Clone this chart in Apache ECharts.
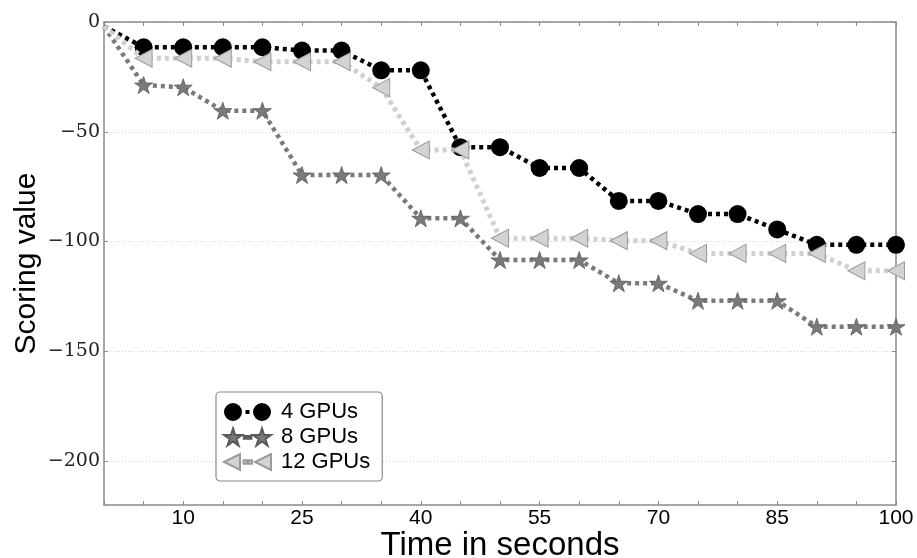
<!DOCTYPE html>
<html>
<head>
<meta charset="utf-8">
<script src="https://cdn.jsdelivr.net/npm/echarts@6/dist/echarts.min.js"></script>
<style>html,body{margin:0;padding:0;background:#fff}#c{width:917px;height:558px}</style>
</head>
<body>
<div id="c"></div>
<script>
// ---- data ----
const times = [0,5,10,15,20,25,30,35,40,45,50,55,60,65,70,75,80,85,90,95,100];
const gpu4  = [-2,-11.5,-11.5,-11.5,-11.5,-13,-13,-22,-22,-57,-57,-66.5,-66.5,-81.5,-81.5,-87.5,-87.5,-94.5,-101.5,-101.5,-101.5];
const gpu8  = [-2,-28.7,-29.7,-40.4,-40.4,-69.7,-69.7,-69.7,-89.4,-89.4,-108.4,-108.4,-108.4,-119,-119,-127,-127,-127,-138.8,-138.8,-138.8];
const gpu12 = [-2,-16.5,-16.5,-16.5,-18.1,-18.1,-18.1,-29.9,-58.3,-58.3,-98.5,-98.5,-98.5,-99.6,-99.6,-105.4,-105.4,-105.4,-105.4,-113.3,-113.3];
const seriesNames = ['4 GPUs','8 GPUs','12 GPUs'];
const xTickValues = [0,5,10,15,20,25,30,35,40,45,50,55,60,65,70,75,80,85,90,95,100];
const xLabelValues = [10,25,40,55,70,85,100];
const yTickValues = [0,-50,-100,-150,-200];

// ---- styles ----
const starPath = 'path://M50 0 L61.17 34.63 L97.55 34.55 L68.07 55.87 L79.39 90.45 L50 69 L20.61 90.45 L31.93 55.87 L2.45 34.55 L38.83 34.63 Z';
const leftTriPath = 'path://M0 50 L100 0 L100 100 Z';
const legendCircle = 'path://M0 9 A9 9 0 1 0 18 9 A9 9 0 1 0 0 9 Z M29 9 A9 9 0 1 0 47 9 A9 9 0 1 0 29 9 Z M21.5 7 L25.5 7 L25.5 11 L21.5 11 Z';
const legendStar = 'path://M9.03 0.4 L11.16 6.98 L18.07 6.96 L12.47 11.02 L14.62 17.59 L9.03 13.51 L3.45 17.59 L5.6 11.02 L0 6.96 L6.91 6.98 Z ' +
  'M37.93 0.4 L40.06 6.98 L46.97 6.96 L41.37 11.02 L43.52 17.59 L37.93 13.51 L32.35 17.59 L34.5 11.02 L28.9 6.96 L35.81 6.98 Z ' +
  'M19.8 8 L22.6 8 L22.6 10.8 L19.8 10.8 Z M24.6 8 L27.4 8 L27.4 10.8 L24.6 10.8 Z';
const legendTri = 'path://M0 9 L16 1 L16 17 Z M31 9 L47 1 L47 17 Z M19.5 7.2 L23 7.2 L23 10.8 L19.5 10.8 Z M24.5 7.2 L28 7.2 L28 10.8 L24.5 10.8 Z';

function pairs(vals){
  return times.map((t,i)=> i===0 ? {value:[t,vals[i]], symbol:'none'} : [t,vals[i]]);
}
const axisColor = '#8a8a8a';
const minus = v => String(v).replace('-', '\u2212');

const chart = echarts.init(document.getElementById('c'), null, {renderer:'canvas'});
chart.setOption({
  animation:false,
  backgroundColor:'#fff',
  grid:{left:104, right:21, top:22, bottom:53, containLabel:false, outerBoundsMode:'none'},
  legend:{
    orient:'vertical', left:216, top:392,
    padding:[9,12,8,7], itemGap:3, itemWidth:47, itemHeight:18,
    borderColor:'#8a8a8a', borderWidth:1.2, borderRadius:4, backgroundColor:'#fff',
    textStyle:{fontFamily:'Liberation Sans', fontSize:22, color:'#000', padding:[0,0,0,5]},
    data:[{name:seriesNames[0], icon:legendCircle},{name:seriesNames[1], icon:legendStar},{name:seriesNames[2], icon:legendTri}]
  },
  xAxis:[{
    type:'value', min:0, max:100, position:'bottom',
    name:'Time in seconds', nameLocation:'middle', nameGap:24, nameMoveOverlap:false,
    nameTextStyle:{fontFamily:'Liberation Sans', fontSize:33, color:'#000'},
    axisLine:{show:true, onZero:false, lineStyle:{color:axisColor, width:1.5}},
    axisTick:{show:true, inside:true, length:4, customValues:xTickValues, lineStyle:{color:axisColor}},
    axisLabel:{customValues:xLabelValues, margin:3, fontFamily:'Liberation Sans', fontSize:21, color:'#000'},
    splitLine:{show:false}
  },{
    type:'value', min:0, max:100, position:'top',
    axisLine:{show:true, onZero:false, lineStyle:{color:axisColor, width:1.5}},
    axisTick:{show:true, inside:true, length:4, customValues:xTickValues, lineStyle:{color:axisColor}},
    axisLabel:{show:false}, splitLine:{show:false}
  }],
  yAxis:[{
    type:'value', min:-220, max:0, position:'left',
    name:'Scoring value', nameLocation:'middle', nameGap:62, nameRotate:90, nameMoveOverlap:false,
    nameTextStyle:{fontFamily:'Liberation Sans', fontSize:30, color:'#000'},
    axisLine:{show:true, onZero:false, lineStyle:{color:axisColor, width:1.5}},
    axisTick:{show:true, inside:true, length:4, customValues:yTickValues, lineStyle:{color:axisColor}},
    axisLabel:{customValues:yTickValues, margin:4, fontFamily:'DejaVu Serif', fontSize:19, color:'#222', formatter:minus},
    splitLine:{show:true, lineStyle:{color:'#c8c8c8', width:0.8, type:[1,2]}}
  },{
    type:'value', min:-220, max:0, position:'right',
    axisLine:{show:true, onZero:false, lineStyle:{color:axisColor, width:1.5}},
    axisTick:{show:true, inside:true, length:4, customValues:yTickValues, lineStyle:{color:axisColor}},
    axisLabel:{show:false}, splitLine:{show:false}
  }],
  series:[{
    name:seriesNames[0], type:'line', z:3, data:pairs(gpu4),
    symbol:'circle', symbolSize:18,
    itemStyle:{color:'#000'},
    lineStyle:{color:'#000', width:4.5, type:[4,4], cap:'butt'}
  },{
    name:seriesNames[1], type:'line', z:4, data:pairs(gpu8),
    symbol:starPath, symbolSize:[18,17],
    itemStyle:{color:'#7a7a7a', borderColor:'#5a5a5a', borderWidth:0.8},
    lineStyle:{color:'#7a7a7a', width:4.5, type:[4,4], cap:'butt'}
  },{
    name:seriesNames[2], type:'line', z:5, data:pairs(gpu12),
    symbol:leftTriPath, symbolSize:[17,18],
    itemStyle:{color:'#d3d3d3', borderColor:'#9a9a9a', borderWidth:1},
    lineStyle:{color:'#d0d0d0', width:5, type:[4,4], cap:'butt'}
  }]
});
</script>
</body>
</html>
